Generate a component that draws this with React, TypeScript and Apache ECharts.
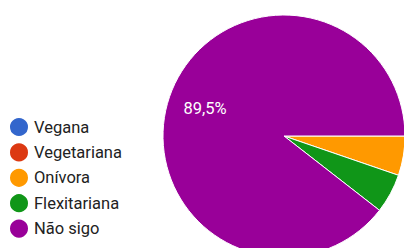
import React, { useEffect, useRef } from "react";
import * as echarts from "echarts";

const categories = ["Vegana", "Vegetariana", "Onívora", "Flexitariana", "Não sigo"];
const values = [0, 0, 1, 1, 17];
const colors = ["#3366cc", "#dc3912", "#ff9900", "#109618", "#990099"];

export default function App() {
  const ref = useRef<HTMLDivElement>(null);
  useEffect(() => {
    const chart = echarts.init(ref.current!, undefined, { renderer: "svg" });
    const total = values.reduce((a, b) => a + b, 0);
    const data = categories.map((name, i) => ({
      name,
      value: values[i],
      itemStyle: { color: colors[i] },
    }));
    chart.setOption({
      animation: false,
      color: colors,
      legend: {
        orient: "vertical",
        left: 3,
        top: 111,
        height: 140,
        icon: "circle",
        itemWidth: 20,
        itemHeight: 20,
        itemGap: 3.4,
        selectedMode: false,
        data: categories,
        textStyle: {
          fontFamily: "Roboto",
          fontSize: 16.5,
          color: "#222",
          lineHeight: 16,
        },
      },
      series: [
        {
          type: "pie",
          center: [284, 136],
          radius: [0, 121],
          startAngle: 0,
          clockwise: true,
          avoidLabelOverlap: false,
          stillShowZeroSum: true,
          itemStyle: { borderColor: "#fff", borderWidth: 1 },
          label: { show: false },
          labelLine: { show: false },
          emphasis: { disabled: true },
          data,
        },
        {
          type: "pie",
          center: [284, 136],
          radius: [40, 121],
          startAngle: 0,
          clockwise: true,
          silent: true,
          avoidLabelOverlap: false,
          legendHoverLink: false,
          itemStyle: { color: "rgba(0,0,0,0)", borderWidth: 0 },
          label: {
            show: true,
            position: "inside",
            fontFamily: "Roboto",
            fontSize: 16.5,
            color: "#fff",
            formatter: (p: any) =>
              p.value / total > 0.1
                ? ((p.value / total) * 100).toFixed(1).replace(".", ",") + "%"
                : "",
          },
          labelLine: { show: false },
          emphasis: { disabled: true },
          data: categories.map((name, i) => ({ name: name + " ", value: values[i] })),
        },
      ],
    });
    return () => chart.dispose();
  }, []);
  return <div ref={ref} style={{ width: 404, height: 248, position: "absolute", left: 0, top: 0 }} />;
}
